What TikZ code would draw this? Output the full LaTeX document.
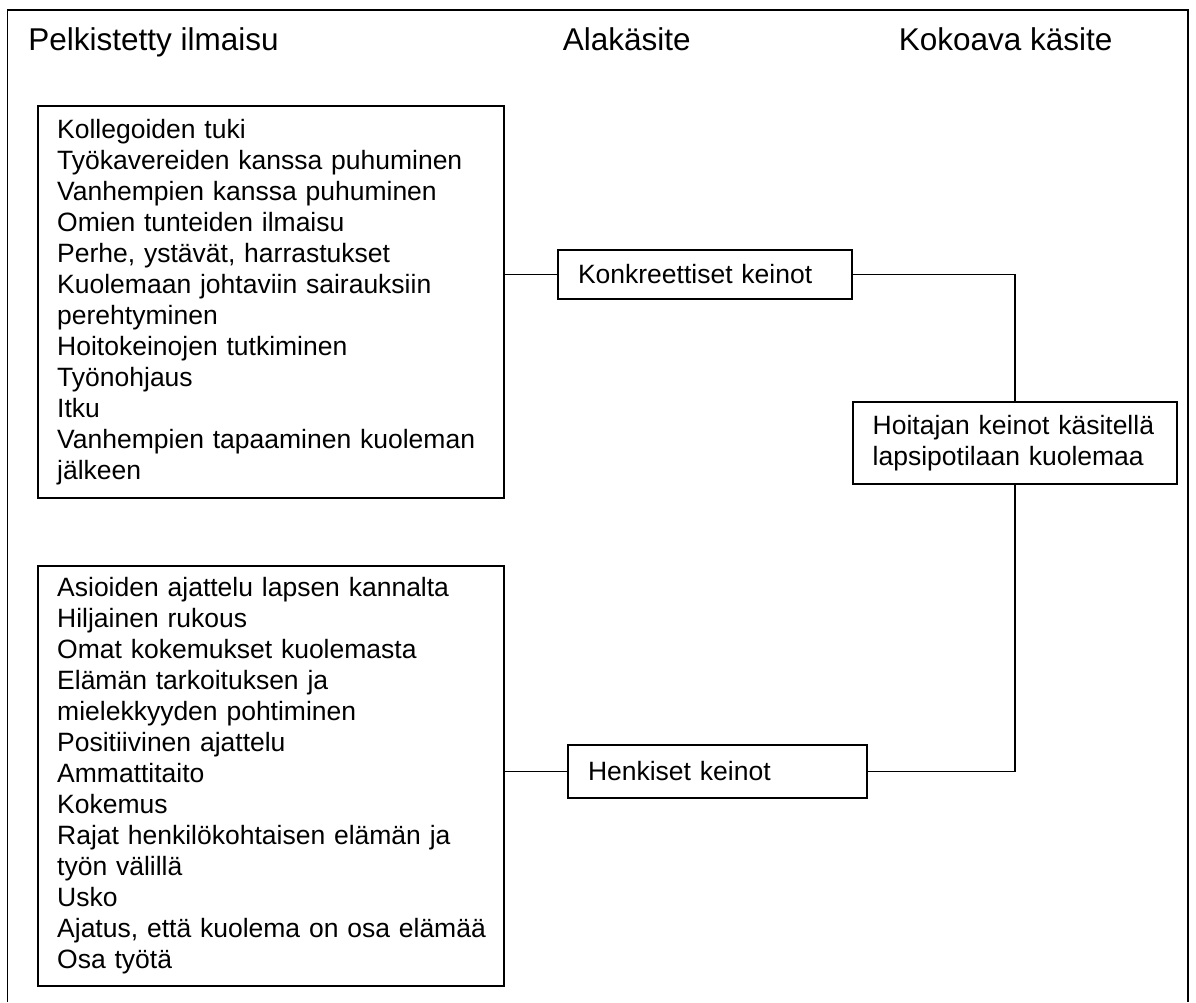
\documentclass[tikz,border=0pt]{standalone}
\usepackage{fontspec}
\setmainfont{Liberation Sans}
\begin{document}
\begin{tikzpicture}[x=1pt,y=-1pt,
  line width=1.6pt,
  heading/.style={anchor=base west,inner sep=0pt,font=\fontsize{31.5}{36}\selectfont},
  listbox/.style={draw,rectangle,inner xsep=19.5pt,inner ysep=0pt,align=left,
    font=\fontsize{26.5}{31}\selectfont},
  termbox/.style={draw,rectangle,inner xsep=20pt,inner ysep=0pt,align=left,
    font=\fontsize{26.5}{31}\selectfont}]
\useasboundingbox (0,0) rectangle (1196,1002);
\fill[white] (0,0) rectangle (1196,1002);
% outer frame, open at the bottom
\draw (7.5,1002) -- (7.5,10) -- (1188,10) -- (1188,1002);
% column headings
\node[heading] (h1) at (27.5,50) {Pelkistetty ilmaisu};
\node[heading] (h2) at (562,50) {Alakäsite};
\node[heading] (h3) at (898,50) {Kokoava käsite};
% simplified expressions
\node[listbox,text width=427.3pt,minimum height=391.7pt] (l1) at (270.85,301.85) {%
Kollegoiden tuki\\
Työkavereiden kanssa puhuminen\\
Vanhempien kanssa puhuminen\\
Omien tunteiden ilmaisu\\
Perhe, ystävät, harrastukset\\
Kuolemaan johtaviin sairauksiin\\
perehtyminen\\
Hoitokeinojen tutkiminen\\
Työnohjaus\\
Itku\\
Vanhempien tapaaminen kuoleman\\
jälkeen};
\node[listbox,text width=427.3pt,minimum height=419.7pt] (l2) at (270.85,775.85) {%
Asioiden ajattelu lapsen kannalta\\
Hiljainen rukous\\
Omat kokemukset kuolemasta\\
Elämän tarkoituksen ja\\
mielekkyyden pohtiminen\\
Positiivinen ajattelu\\
Ammattitaito\\
Kokemus\\
Rajat henkilökohtaisen elämän ja\\
työn välillä\\
Usko\\
\mbox{Ajatus, että kuolema on osa elämää}\\
Osa työtä};
% subconcepts
\node[termbox,text width=254pt,minimum height=49pt] (s1) at (705,274.5) {Konkreettiset keinot};
\node[termbox,text width=259pt,minimum height=53pt] (s2) at (717.5,771.5) {Henkiset keinot};
% main concept
\node[termbox,text width=284pt,minimum height=82.3pt] (m) at (1014.7,442.85) {Hoitajan keinot käsitellä\\lapsipotilaan kuolemaa};
% connectors
\draw (l1.east |- s1.west) -- (s1.west);
\draw (l2.east |- s2.west) -- (s2.west);
\draw (s1.east) -| (m.north);
\draw (m.south) |- (s2.east);
\end{tikzpicture}
\end{document}
